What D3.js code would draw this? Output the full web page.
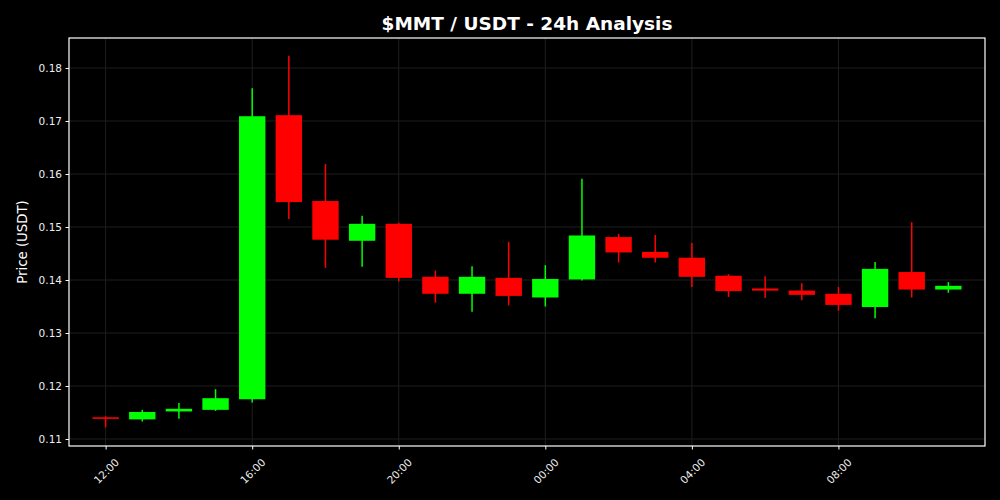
<!DOCTYPE html>
<html>
<head>
<meta charset="utf-8">
<script src="https://cdn.jsdelivr.net/npm/d3@7"></script>
<style>
  html, body { margin: 0; padding: 0; background: #000; }
  svg { display: block; }
</style>
</head>
<body>
<svg id="chart" width="1000" height="500"></svg>
<script>
// ---- Data ----
const hours = ["12:00","13:00","14:00","15:00","16:00","17:00","18:00","19:00","20:00","21:00","22:00","23:00",
               "00:00","01:00","02:00","03:00","04:00","05:00","06:00","07:00","08:00","09:00","10:00","11:00"];
const openVals  = [0.1141,0.1137,0.1152,0.1155,0.1175,0.1711,0.1549,0.1474,0.1506,0.1406,0.1374,0.1404,
                   0.1367,0.1401,0.1481,0.1453,0.1442,0.1408,0.1384,0.1380,0.1374,0.1349,0.1415,0.1382];
const highVals  = [0.1143,0.1155,0.1168,0.1194,0.1762,0.1823,0.1619,0.1521,0.1508,0.1418,0.1426,0.1472,
                   0.1428,0.1591,0.1487,0.1485,0.1470,0.1411,0.1407,0.1394,0.1387,0.1434,0.1509,0.1396];
const lowVals   = [0.1122,0.1133,0.1138,0.1153,0.1169,0.1515,0.1423,0.1425,0.1397,0.1357,0.1340,0.1352,
                   0.1350,0.1399,0.1433,0.1433,0.1387,0.1368,0.1366,0.1362,0.1342,0.1328,0.1367,0.1376];
const closeVals = [0.1138,0.1151,0.1157,0.1177,0.1709,0.1547,0.1476,0.1506,0.1404,0.1374,0.1406,0.1370,
                   0.1402,0.1484,0.1452,0.1442,0.1406,0.1379,0.1380,0.1372,0.1353,0.1421,0.1382,0.1389];
const xTickLabels = ["12:00","16:00","20:00","00:00","04:00","08:00"];
const yTickValues = [0.11,0.12,0.13,0.14,0.15,0.16,0.17,0.18];
const titleText = "$MMT / USDT - 24h Analysis";
const yLabelText = "Price (USDT)";

// ---- Build time stamps ----
const start = new Date(2024, 0, 1, 12, 0);
const HOUR = 3600 * 1000;
const candles = hours.map((h, i) => ({
  t: new Date(start.getTime() + i * HOUR),
  label: h,
  o: openVals[i], h: highVals[i], l: lowVals[i], c: closeVals[i]
}));
const xTicks = xTickLabels.map(lbl => candles.find(d => d.label === lbl).t);

// ---- Layout ----
const svg = d3.select("#chart");
const W = 1000, H = 500;
const m = { left: 69, right: 15, top: 38, bottom: 54 };
const pw = W - m.left - m.right, ph = H - m.top - m.bottom;

svg.append("rect").attr("width", W).attr("height", H).attr("fill", "#000");

const x = d3.scaleTime()
  .domain([new Date(start.getTime() - HOUR), new Date(start.getTime() + 24 * HOUR)])
  .range([m.left, m.left + pw]);
const y = d3.scaleLinear()
  .domain([0.10868, 0.18566])
  .range([m.top + ph, m.top]);

const g = svg.append("g");
g.append("rect").attr("x", m.left).attr("y", m.top).attr("width", pw).attr("height", ph).attr("fill", "#000");

// Grid
const gridColor = "#1e1e1e";
g.append("g").selectAll("line.gy").data(yTickValues).join("line")
  .attr("x1", m.left).attr("x2", m.left + pw)
  .attr("y1", d => y(d)).attr("y2", d => y(d))
  .attr("stroke", gridColor).attr("stroke-width", 1);
g.append("g").selectAll("line.gx").data(xTicks).join("line")
  .attr("x1", d => x(d)).attr("x2", d => x(d))
  .attr("y1", m.top).attr("y2", m.top + ph)
  .attr("stroke", gridColor).attr("stroke-width", 1);

// Candles
const green = "#00ff00", red = "#ff0000";
const halfW = 0.36 * HOUR;
const cg = g.append("g");
cg.selectAll("line.wick").data(candles).join("line")
  .attr("x1", d => x(d.t)).attr("x2", d => x(d.t))
  .attr("y1", d => y(d.h)).attr("y2", d => y(d.l))
  .attr("stroke", d => d.c >= d.o ? green : red)
  .attr("stroke-width", 1.5);
cg.selectAll("rect.body").data(candles).join("rect")
  .attr("x", d => x(new Date(d.t.getTime() - halfW)))
  .attr("width", d => x(new Date(d.t.getTime() + halfW)) - x(new Date(d.t.getTime() - halfW)))
  .attr("y", d => y(Math.max(d.o, d.c)))
  .attr("height", d => Math.max(1.5, Math.abs(y(d.o) - y(d.c))))
  .attr("fill", d => d.c >= d.o ? green : red);

// Frame
g.append("rect").attr("x", m.left).attr("y", m.top).attr("width", pw).attr("height", ph)
  .attr("fill", "none").attr("stroke", "#fff").attr("stroke-width", 1.2);

// Axes
const fontFam = "'DejaVu Sans', sans-serif";
const textColor = "#eeeeee";
const yAxis = d3.axisLeft(y).tickValues(yTickValues).tickFormat(d3.format(".2f")).tickSize(3.5).tickPadding(3.5);
const ya = svg.append("g").attr("transform", `translate(${m.left},0)`).call(yAxis);
ya.select(".domain").remove();
ya.selectAll(".tick line").attr("stroke", "#fff").attr("stroke-width", 1);
ya.selectAll(".tick text").attr("fill", textColor).style("font-family", fontFam).style("font-size", "10.5px");

const xAxis = d3.axisBottom(x).tickValues(xTicks).tickFormat((d, i) => xTickLabels[i]).tickSize(3.5);
const xa = svg.append("g").attr("transform", `translate(0,${m.top + ph})`).call(xAxis);
xa.select(".domain").remove();
xa.selectAll(".tick line").attr("stroke", "#fff").attr("stroke-width", 1);
xa.selectAll(".tick text")
  .attr("fill", textColor).style("font-family", fontFam).style("font-size", "10.5px")
  .attr("text-anchor", "middle").attr("dy", null).attr("y", 0)
  .attr("transform", "translate(0,25) rotate(-45)")
  .attr("dominant-baseline", "central");

// Title
svg.append("text").attr("x", m.left + pw / 2).attr("y", 30)
  .attr("text-anchor", "middle").attr("fill", "#fff")
  .style("font-family", fontFam).style("font-size", "18.5px").style("font-weight", "bold")
  .text(titleText);

// Y label
svg.append("text")
  .attr("transform", `translate(27,${m.top + ph / 2}) rotate(-90)`)
  .attr("text-anchor", "middle").attr("fill", "#fff")
  .style("font-family", fontFam).style("font-size", "13.3px")
  .text(yLabelText);
</script>
</body>
</html>
